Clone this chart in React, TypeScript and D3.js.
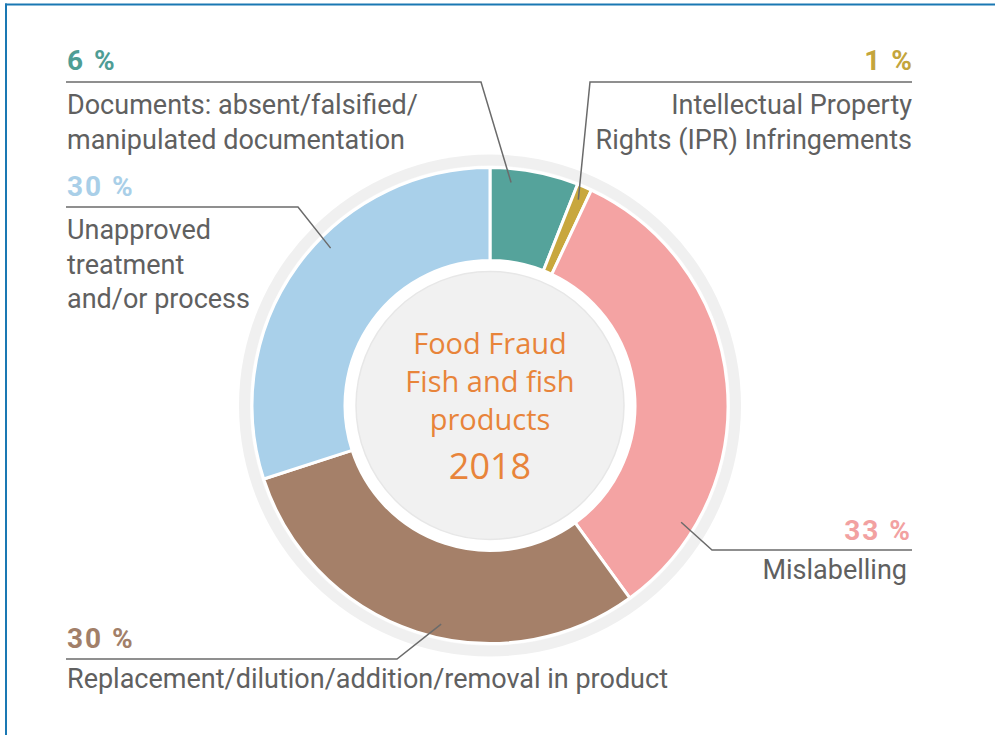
import React from "react";
import * as d3 from "d3";

const categories = [
  "Documents: absent/falsified/manipulated documentation",
  "Intellectual Property Rights (IPR) Infringements",
  "Mislabelling",
  "Replacement/dilution/addition/removal in product",
  "Unapproved treatment and/or process",
];
const values = [6, 1, 33, 30, 30];
const percentLabels = ["6 %", "1 %", "33 %", "30 %", "30 %"];
const labelLines = [
  ["Documents: absent/falsified/", "manipulated documentation"],
  ["Intellectual Property", "Rights (IPR) Infringements"],
  ["Mislabelling"],
  ["Replacement/dilution/addition/removal in product"],
  ["Unapproved", "treatment", "and/or process"],
];
const sliceColors = ["#55a39b", "#c8a73d", "#f4a3a3", "#a58069", "#a9d0ea"];
const pctColors = ["#4e9d95", "#c4a53c", "#f2a1a1", "#a27f69", "#a9cfe8"];
const centerTitle = ["Food Fraud", "Fish and fish", "products"];
const centerYear = "2018";

// layout (positions/styles only)
const layout = [
  { anchor: "start", x: 67, textX: 67, pctY: 70, lineY: 82, lineFrom: 66, elbow: 481, textY: 114, frac: 0.25 },
  { anchor: "end", x: 914, textX: 912, pctY: 70, lineY: 82, lineFrom: 912, elbow: 590, textY: 114, frac: 0.45 },
  { anchor: "end", x: 912, textX: 907, pctY: 540, lineY: 550, lineFrom: 912, elbow: 712, textY: 579, frac: 0.81 },
  { anchor: "start", x: 67, textX: 67, pctY: 648, lineY: 659, lineFrom: 66, elbow: 397, textY: 688, frac: 0.45 },
  { anchor: "start", x: 67, textX: 67, pctY: 196, lineY: 207, lineFrom: 66, elbow: 298, textY: 239, frac: 0.58 },
];

const W = 995;
const H = 735;
const cx = 490;
const cy = 405.5;
const outerR = 238;
const innerR = 145;
const leaderR = 224;

export default function App() {
  const pie = d3
    .pie<number>()
    .sort(null)
    .value((d) => d)
    .startAngle(0)
    .endAngle(2 * Math.PI);
  const arcs = pie(values);
  const arc = d3.arc<d3.PieArcDatum<number>>().innerRadius(innerR).outerRadius(outerR);
  const labelFont = "Roboto, 'Open Sans', sans-serif";

  return (
    <svg
      width={W}
      height={H}
      style={{ position: "absolute", left: 0, top: 0, background: "#fff" }}
    >
      <rect x={0} y={0} width={W} height={H} fill="#fff" />
      <line x1={5} y1={4.5} x2={W} y2={4.5} stroke="#1a78b3" strokeWidth={2} />
      <line x1={6} y1={3.5} x2={6} y2={H} stroke="#1a78b3" strokeWidth={2} />

      <g transform={`translate(${cx},${cy})`}>
        <circle r={251} fill="#f0f0f0" />
        <circle r={240} fill="#fafafa" />
        {arcs.map((a, i) => (
          <path key={categories[i]} d={arc(a) || ""} fill={sliceColors[i]} stroke="#fff" strokeWidth={3} />
        ))}
        <circle r={innerR - 1} fill="#fff" />
        <circle r={134} fill="#f1f1f1" stroke="#e7e7e7" strokeWidth={1.5} />
        {centerTitle.map((t, i) => (
          <text
            key={t}
            x={0}
            y={-52 + i * 38}
            textAnchor="middle"
            fontFamily="'Open Sans', sans-serif"
            fontSize={29}
            fill="#e8843a"
          >
            {t}
          </text>
        ))}
        <text x={0} y={73} textAnchor="middle" fontFamily="'Open Sans', sans-serif" fontSize={36} fill="#e8843a">
          {centerYear}
        </text>
      </g>

      {arcs.map((a, i) => {
        const L = layout[i];
        const ang = a.startAngle + (a.endAngle - a.startAngle) * L.frac;
        const ex = cx + leaderR * Math.sin(ang);
        const ey = cy - leaderR * Math.cos(ang);
        const pts: [number, number][] = [
          [L.lineFrom, L.lineY],
          [L.elbow, L.lineY],
          [ex, ey],
        ];
        return (
          <g key={"lab" + i}>
            <path d={d3.line()(pts) || ""} fill="none" stroke="#6b6b6b" strokeWidth={1.5} />
            <text
              x={L.x}
              y={L.pctY}
              textAnchor={L.anchor}
              fontFamily={labelFont}
              fontWeight={700}
              fontSize={28}
              letterSpacing={2}
              wordSpacing={0}
              fill={pctColors[i]}
            >
              {percentLabels[i]}
            </text>
            {labelLines[i].map((ln, j) => (
              <text
                key={ln}
                x={L.textX}
                y={L.textY + j * 34.5}
                textAnchor={L.anchor}
                fontFamily={labelFont}
                fontSize={27}
                fill="#606060"
              >
                {ln}
              </text>
            ))}
          </g>
        );
      })}
    </svg>
  );
}
